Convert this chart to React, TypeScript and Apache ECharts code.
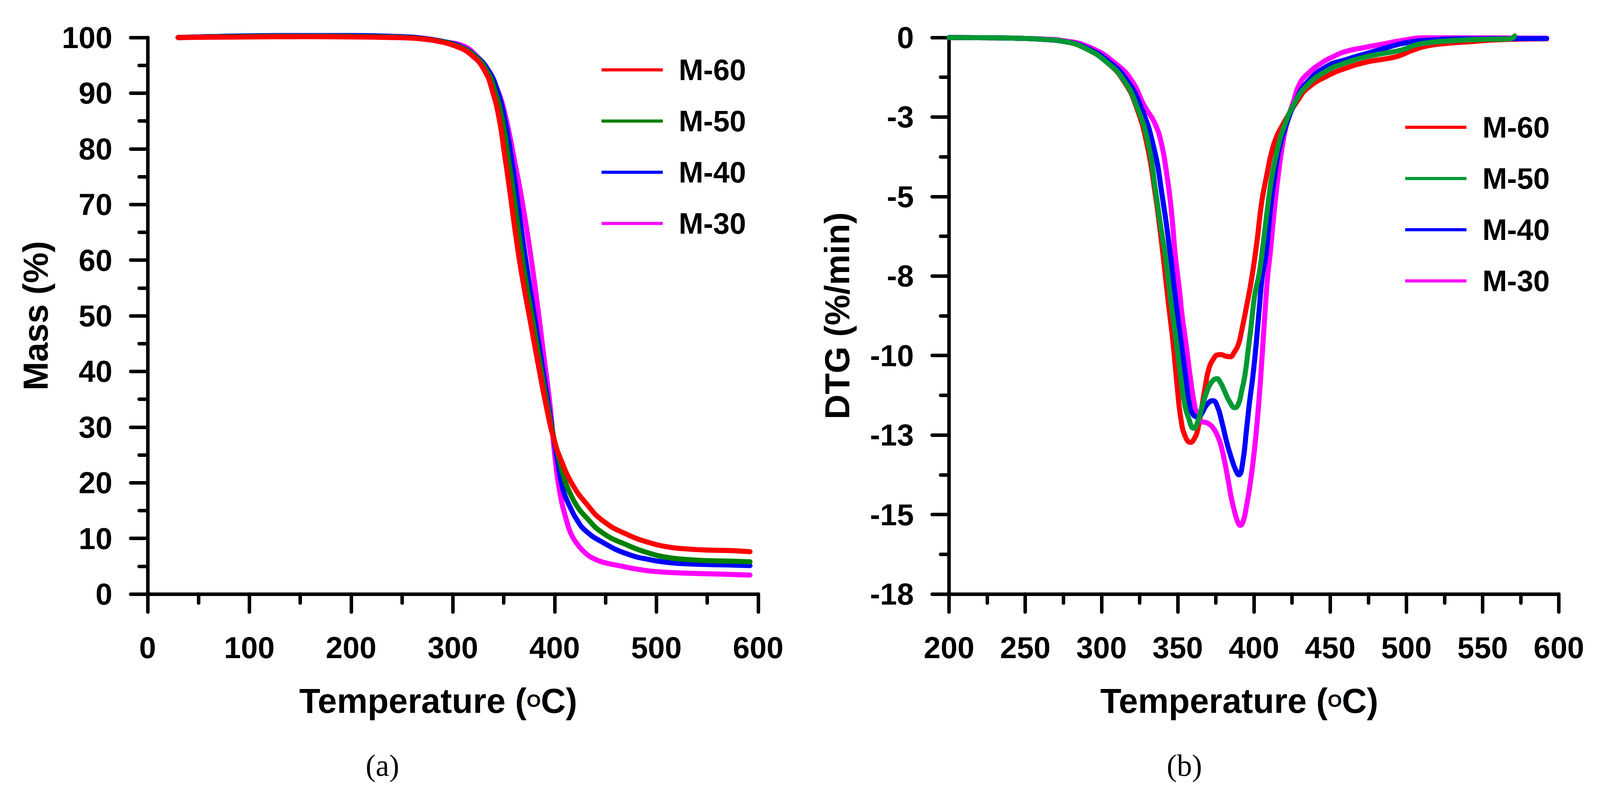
import React, { useEffect, useRef } from 'react';
import * as echarts from 'echarts';

// ---------- DATA ----------
const seriesNames = ['M-60', 'M-50', 'M-40', 'M-30'];

// TG curves: [temperature °C, mass %]
const tgM60: [number, number][] = [
  [30, 100.0], [60, 100.05], [100, 100.1], [150, 100.15], [200, 100.1], [240, 100.0], [260, 99.9], [272, 99.7],
  [286, 99.3], [302, 98.5], [318, 96.9], [331, 94.1], [339, 90.3], [345.6, 85.3], [350.3, 79.6], [355.2, 73.4],
  [361.7, 64.6], [368, 57.1], [376.2, 48.9], [384.3, 40.8], [392.3, 33.3], [398.7, 28.2], [406.7, 23.9],
  [418.1, 19.5], [430.9, 16.3], [447.1, 13.2], [471.3, 10.7], [495.5, 9.1], [510, 8.5], [522.5, 8.2],
  [550, 7.9], [575, 7.8], [592, 7.6],
];
const tgM50: [number, number][] = [
  [30, 100.0], [60, 100.1], [100, 100.2], [150, 100.25], [200, 100.2], [240, 100.1], [260, 99.95], [272, 99.75],
  [288, 99.3], [304, 98.5], [320, 96.9], [333, 94.1], [341.5, 90.3], [348.5, 85.3], [353.5, 79.6], [358.5, 73.4],
  [365, 64.6], [371, 57.1], [378.8, 48.9], [386.3, 40.8], [393.5, 33.3], [399.3, 28.0], [404, 24.6], [409, 21.0],
  [415, 18.2], [422, 15.8], [430.9, 13.8], [447.1, 11.0], [471.3, 8.8], [495.5, 7.2], [510, 6.6], [522.5, 6.3],
  [550, 6.0], [575, 5.9], [592, 5.8],
];
const tgM40: [number, number][] = [
  [30, 100.0], [60, 100.15], [100, 100.3], [150, 100.35], [200, 100.35], [240, 100.2], [260, 100.05], [272, 99.8],
  [290, 99.3], [306, 98.5], [321, 96.9], [335, 94.1], [344, 90.3], [351, 85.3], [356.5, 79.6], [361.5, 73.4],
  [368, 64.6], [374, 57.1], [381, 48.9], [388, 40.8], [394.5, 33.3], [399.5, 27.6], [403, 23.8], [406.7, 20.0],
  [410, 17.8], [415, 15.7], [422, 13.3], [430.9, 11.3], [447.1, 9.3], [471.3, 7.2], [495.5, 6.1], [510, 5.7],
  [522.5, 5.5], [550, 5.3], [575, 5.2], [592, 5.1],
];
const tgM30: [number, number][] = [
  [30, 100.0], [60, 100.15], [100, 100.25], [150, 100.3], [200, 100.3], [240, 100.2], [260, 100.05], [275, 99.8],
  [292, 99.2], [310, 98.5], [322, 96.9], [334.3, 94.1], [341, 91.8], [347.1, 89.0], [352, 85.6], [356.8, 81.5],
  [361.5, 77.0], [366.6, 72.1], [374.5, 63.3], [382.6, 52.7], [389, 43.3], [395.5, 33.9], [400.4, 24.5],
  [405.2, 18.2], [411.7, 13.2], [417, 10.5], [423, 8.8], [430, 7.4], [439.2, 6.3], [450, 5.6], [463.3, 5.1],
  [480, 4.5], [495.5, 4.1], [522.5, 3.8], [560, 3.6], [592, 3.4],
];

// DTG curves: [temperature °C, DTG %/min]
const dtgM60: [number, number][] = [
  [200, 0], [230, -0.01], [250, -0.03], [262, -0.06], [275, -0.12], [289, -0.33], [304, -0.8], [315, -1.4],
  [323, -2.2], [330, -3.4], [335.5, -5.0], [338, -5.9], [340.3, -6.81], [343.5, -8.2], [346.8, -9.55],
  [349.5, -10.9], [352.1, -12.0], [355, -12.55], [358.4, -12.73], [361, -12.6], [363, -12.35], [365.5, -11.7],
  [368.2, -10.93], [370.5, -10.4], [373.5, -10.1], [376, -9.98], [378.3, -9.97], [381.5, -10.02], [384.4, -10.04],
  [387, -9.9], [389.7, -9.66], [392, -9.2], [394.5, -8.61], [398.3, -7.63], [402, -6.4], [405, -5.2],
  [408.5, -4.3], [411.6, -3.6], [415, -3.1], [418.3, -2.79], [423, -2.4], [428.4, -2.0], [435, -1.6],
  [448, -1.21], [460, -0.97], [474, -0.77], [485, -0.68], [495, -0.58], [503, -0.42], [513, -0.27],
  [525, -0.19], [539, -0.14], [565, -0.06], [592, -0.04],
];
const dtgM50: [number, number][] = [
  [200, 0], [230, -0.01], [250, -0.03], [262, -0.06], [275, -0.12], [289, -0.33], [304.5, -0.82], [315, -1.37],
  [323, -2.14], [330.5, -3.3], [335.7, -4.9], [339, -6.0], [342, -6.9], [345.5, -8.3], [349, -9.55],
  [352, -10.7], [354.3, -11.47], [357, -11.95], [360.5, -12.29], [363, -12.1], [366, -11.6], [369, -11.15],
  [372, -10.85], [375.7, -10.73], [378, -10.85], [381, -11.15], [384, -11.45], [387.5, -11.64], [390, -11.5],
  [392, -11.1], [394, -10.64], [396, -9.9], [398.3, -9.0], [400.5, -8.1], [403.5, -7.4], [406, -6.5],
  [409.4, -5.17], [412, -4.3], [415, -3.6], [419, -2.9], [427, -2.03], [435, -1.5], [448, -1.04], [460, -0.8],
  [474, -0.6], [485, -0.5], [497, -0.39], [505, -0.25], [513, -0.17], [530, -0.1], [550, -0.06], [568, -0.04],
  [571, 0.05],
];
const dtgM40: [number, number][] = [
  [200, 0], [230, -0.01], [250, -0.03], [262, -0.06], [275, -0.12], [290, -0.32], [306, -0.8], [317, -1.37],
  [325.5, -2.14], [334, -3.4], [340, -5.04], [345.1, -6.81], [348.5, -8.2], [352.1, -9.55], [355, -10.6],
  [357.4, -11.47], [360, -11.85], [363.4, -11.93], [366, -11.8], [369, -11.55], [373, -11.42], [376, -11.6],
  [379, -12.1], [382, -12.7], [385, -13.2], [388, -13.6], [390.1, -13.75], [392.5, -13.4], [395.2, -12.29],
  [397, -11.5], [399.3, -10.64], [401.5, -9.6], [403.6, -8.45], [405.5, -7.5], [407.9, -6.81], [411, -5.3],
  [414, -4.2], [417, -3.4], [420.5, -2.85], [427, -2.03], [435, -1.4], [448, -0.9], [460, -0.7], [474, -0.5],
  [487, -0.32], [499, -0.17], [515, -0.08], [540, -0.04], [592, -0.03],
];
const dtgM30: [number, number][] = [
  [200, 0], [230, -0.01], [250, -0.03], [262, -0.05], [275, -0.1], [292, -0.3], [309.3, -0.82], [320, -1.37],
  [328, -2.14], [335, -2.7], [339.6, -3.4], [342.5, -4.2], [344.9, -5.04], [346.7, -5.9], [348.3, -6.81],
  [351, -7.9], [353, -8.8], [355.2, -9.55], [358, -10.6], [360.7, -11.47], [363, -11.9], [365, -12.07],
  [368, -12.1], [370.4, -12.15], [373.5, -12.3], [376.9, -12.62], [379, -12.95], [381, -13.39], [383, -13.9],
  [385.2, -14.49], [387.5, -14.95], [389.5, -15.25], [391, -15.34], [393, -15.2], [395, -14.76], [397, -14.2],
  [399.3, -13.39], [401.5, -12.4], [403.6, -11.2], [405.5, -9.9], [407.5, -8.45], [409, -7.5], [410.6, -6.81],
  [413, -5.6], [416, -4.3], [419, -3.3], [422, -2.6], [426, -2.0], [429.7, -1.48], [435, -1.15], [445.3, -0.77],
  [452, -0.6], [460, -0.44], [474, -0.3], [485, -0.2], [495, -0.11], [513, -0.01], [540, -0.01], [592, -0.02],
];

// Axis tick values / labels
const dtgTickValues = [0, -2.5, -5, -7.5, -10, -12.5, -15, -17.5];
const dtgTickLabels = ['0', '-3', '-5', '-8', '-10', '-13', '-15', '-18'];
const captions = ['(a)', '(b)'];

// ---------- STYLE ----------
const SANS = '"Liberation Sans", Arial, Helvetica, sans-serif';
const SERIF = '"Liberation Serif", "Times New Roman", serif';
const colorsLeft = ['#FF0000', '#008000', '#0000FF', '#FF00FF'];
const colorsRight = ['#FF0000', '#009933', '#0000FF', '#FF00FF'];

// design frame of the reference picture
const REF_W = 4358;
const REF_H = 2024;

export default function App() {
  const ref = useRef<HTMLDivElement>(null);

  useEffect(() => {
    const el = ref.current;
    if (!el) return;
    const W = el.clientWidth || REF_W;
    const H = el.clientHeight || REF_H;
    const kx = W / REF_W;
    const ky = H / REF_H;
    const fs = (kx + ky) / 2;
    const X = (v: number) => v * kx;
    const Y = (v: number) => v * ky;
    const F = (v: number) => Math.round(v * fs * 10) / 10;

    const chart = echarts.init(el, undefined, { renderer: 'svg' });

    const AXIS_W = 9;
    const axisStyle = (horizontalTicks: boolean) => {
      const k = horizontalTicks ? kx : ky;
      return {
        axisLine: { show: true, onZero: false, lineStyle: { color: '#000', width: AXIS_W, cap: 'round' } },
        axisTick: { show: true, inside: false, length: 46 * k, lineStyle: { color: '#000', width: AXIS_W, cap: 'round' } },
        minorTick: { show: true, splitNumber: 2, length: 23 * k, lineStyle: { color: '#000', width: AXIS_W, cap: 'round' } },
        splitLine: { show: false },
        minorSplitLine: { show: false },
      };
    };

    const labelStyle = { color: '#000', fontFamily: SANS, fontWeight: 'bold', fontSize: F(80) };
    const titleStyle = { color: '#000', fontFamily: SANS, fontWeight: 'bold', fontSize: F(91) };

    const lineSeries = (name: string, data: [number, number][], color: string, axisIndex: number) => ({
      type: 'line',
      name,
      data,
      xAxisIndex: axisIndex,
      yAxisIndex: axisIndex,
      symbol: 'none',
      showSymbol: false,
      smooth: 0.5,
      clip: false,
      silent: true,
      lineStyle: { color, width: 13, cap: 'round', join: 'round' },
      itemStyle: { color },
      emphasis: { disabled: true },
    });

    const legendFor = (colors: string[], left: number, top: number) => ({
      orient: 'vertical',
      left: X(left),
      top: Y(top),
      padding: 5,
      icon: 'rect',
      itemWidth: X(167),
      itemHeight: 8,
      itemGap: Y(131) - F(80),
      selectedMode: false,
      data: seriesNames.map((n, i) => ({ name: n, itemStyle: { color: colors[i] } })),
      textStyle: {
        color: '#000',
        fontFamily: SANS,
        fontWeight: 'bold',
        fontSize: F(78),
        lineHeight: F(80),
        padding: [0, 0, 0, X(38)],
      },
    });

    const xTitle = {
      name: 'Temperature ({sup|O}C)',
      nameLocation: 'middle',
      nameGap: Y(229),
      nameTextStyle: {
        ...titleStyle,
        padding: [0, X(80), 0, 0],
        rich: {
          sup: { color: '#000', fontFamily: SANS, fontWeight: 'bold', fontSize: F(48) },
        },
      },
    };

    const option: any = {
      animation: false,
      backgroundColor: '#fff',
      grid: [
        { left: X(402), top: Y(96), width: X(1663), height: Y(1424), containLabel: false },
        { left: X(2585), top: Y(96), width: X(1661), height: Y(1424), containLabel: false },
      ],
      xAxis: [
        {
          type: 'value', gridIndex: 0, min: 0, max: 600, interval: 100,
          ...axisStyle(false),
          axisLabel: { ...labelStyle, margin: Y(98) },
          ...xTitle,
        },
        {
          type: 'value', gridIndex: 1, min: 200, max: 600, interval: 50,
          ...axisStyle(false),
          axisLabel: { ...labelStyle, margin: Y(98) },
          ...xTitle,
        },
      ],
      yAxis: [
        {
          type: 'value', gridIndex: 0, min: 0, max: 100, interval: 10,
          ...axisStyle(true),
          axisLabel: { ...labelStyle, margin: X(96) },
          name: 'Mass (%)',
          nameLocation: 'middle',
          nameGap: X(258),
          nameTextStyle: titleStyle,
        },
        {
          type: 'value', gridIndex: 1, min: -17.5, max: 0, interval: 2.5,
          ...axisStyle(true),
          axisLabel: {
            ...labelStyle,
            margin: X(96),
            formatter: (v: number) => {
              const i = dtgTickValues.findIndex((t) => Math.abs(t - v) < 1e-6);
              return i >= 0 ? dtgTickLabels[i] : '';
            },
          },
          name: 'DTG (%/min)',
          nameLocation: 'middle',
          nameGap: X(258),
          nameTextStyle: titleStyle,
        },
      ],
      legend: [legendFor(colorsLeft, 1633, 135), legendFor(colorsRight, 3822, 282)],
      series: [
        lineSeries(seriesNames[3], tgM30, colorsLeft[3], 0),
        lineSeries(seriesNames[2], tgM40, colorsLeft[2], 0),
        lineSeries(seriesNames[1], tgM50, colorsLeft[1], 0),
        lineSeries(seriesNames[0], tgM60, colorsLeft[0], 0),
        lineSeries(seriesNames[0], dtgM60, colorsRight[0], 1),
        lineSeries(seriesNames[3], dtgM30, colorsRight[3], 1),
        lineSeries(seriesNames[2], dtgM40, colorsRight[2], 1),
        lineSeries(seriesNames[1], dtgM50, colorsRight[1], 1),
      ],
      graphic: [
        {
          type: 'text',
          left: X(1081) - 80,
          top: Y(1964) - F(45),
          style: { text: captions[0], font: `normal ${F(80)}px ${SERIF}`, fill: '#000', width: 160, align: 'center' },
        },
        {
          type: 'text',
          left: X(3263) - 80,
          top: Y(1964) - F(45),
          style: { text: captions[1], font: `normal ${F(80)}px ${SERIF}`, fill: '#000', width: 160, align: 'center' },
        },
      ],
    };

    chart.setOption(option);
    return () => chart.dispose();
  }, []);

  return (
    <div
      ref={ref}
      style={{ position: 'absolute', left: 0, top: 0, width: '100vw', height: '100vh', background: '#fff' }}
    />
  );
}
